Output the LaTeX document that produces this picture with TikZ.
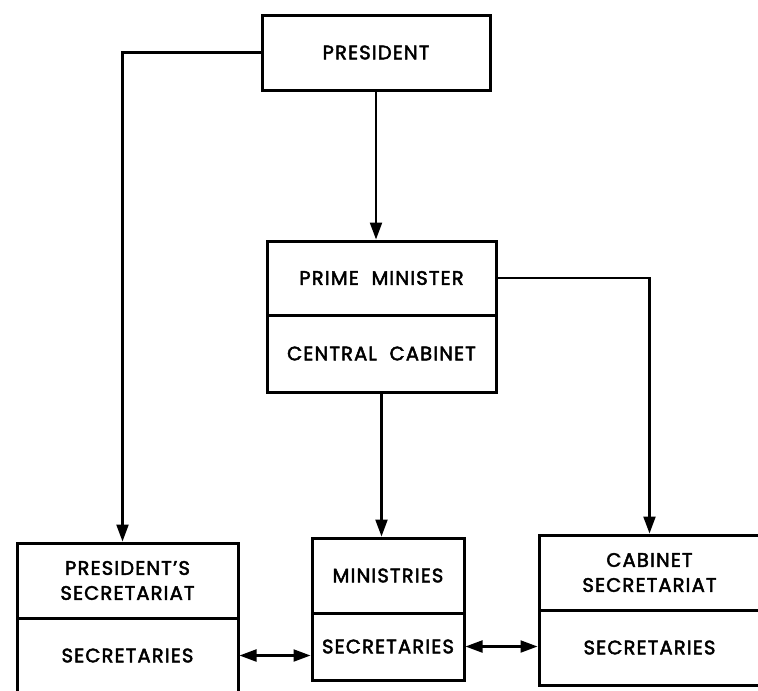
\documentclass[tikz,border=0pt]{standalone}
\usepackage{fontspec}
\setmainfont{Poppins}[FakeBold=2.5,LetterSpace=6]
\usetikzlibrary{arrows.meta}
\begin{document}
	\begin{tikzpicture}[x=1pt,y=-1pt,
		box/.style={draw,line width=3pt,inner sep=0pt,align=center,font=\fontsize{19.5}{25}\selectfont},
		link/.style={line width=2.2pt,-{Triangle[length=17pt,width=12pt]}},
		both/.style={line width=2.2pt,{Triangle[length=17pt,width=12pt]}-{Triangle[length=17pt,width=12pt]}}]
		\useasboundingbox (0,0) rectangle (758,691);
		\clip (0,0) rectangle (758,691);
		\node[box,minimum width=228pt,minimum height=75pt] (pres) at (376,52.5) {PRESIDENT};
		\node[box,minimum width=229pt,minimum height=74pt] (pm) at (381.5,278) {PRIME\ \ MINISTER};
		\node[box,minimum width=229pt,minimum height=77pt] (cc) at (381.5,353.5) {CENTRAL\ \ CABINET};
		\node[box,minimum width=221pt,minimum height=75pt] (ps) at (127.5,580.5) {PRESIDENT'S\\SECRETARIAT};
		\node[box,minimum width=221pt,minimum height=75pt] (pssec) at (127.5,655.5) {SECRETARIES};
		\node[box,minimum width=152pt,minimum height=75pt] (min) at (388,575.5) {MINISTRIES};
		\node[box,minimum width=152pt,minimum height=67pt] (minsec) at (388,646.5) {SECRETARIES};
		\node[box,minimum width=221pt,minimum height=75pt] (cab) at (649.5,572.5) {CABINET\\SECRETARIAT};
		\node[box,minimum width=221pt,minimum height=75pt] (cabsec) at (649.5,647.5) {SECRETARIES};
		\draw[link] (pres.west) -| ([xshift=-5pt]ps.north);
		\draw[link] (pres.south) -- (pres.south |- pm.north);
		\draw[link] (pm.east) -| (cab.north);
		\draw[link] (cc.south) -- (cc.south |- min.north);
		\draw[both] (pssec.east) -- (pssec.east -| minsec.west);
		\draw[both] (minsec.east) -- (minsec.east -| cabsec.west);
	\end{tikzpicture}
\end{document}
